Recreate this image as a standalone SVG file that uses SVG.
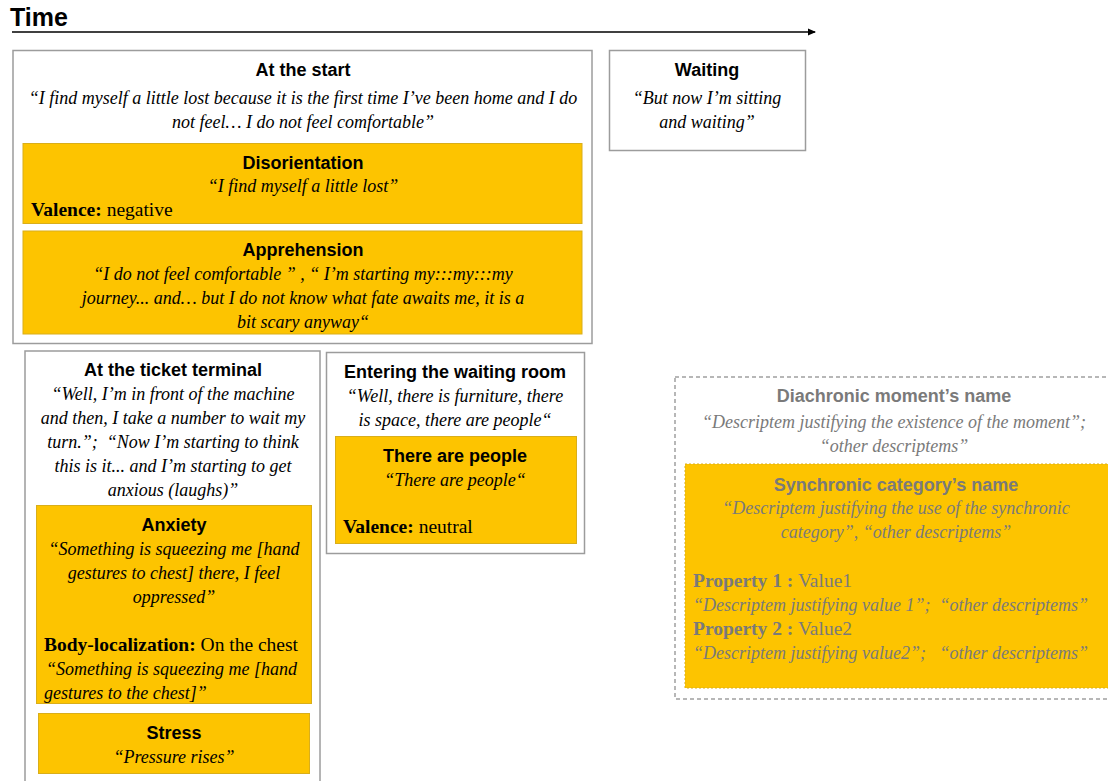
<svg xmlns="http://www.w3.org/2000/svg" width="1108" height="781" viewBox="0 0 1108 781">
<defs>
<style>
.bg{fill:#fff}
.box{fill:#fff;stroke:#9c9c9c;stroke-width:1.5}
.cat{fill:#FDC400;stroke:#D9AE1A;stroke-width:1}
.h{font-family:"Liberation Sans",Arial,sans-serif;font-weight:bold;font-size:18px;fill:#000;text-anchor:middle}
.q{font-family:"Liberation Serif","Times New Roman",serif;font-style:italic;font-size:18px;fill:#000;text-anchor:middle;white-space:pre}
.ql{font-family:"Liberation Serif","Times New Roman",serif;font-style:italic;font-size:18px;fill:#000;white-space:pre}
.p{font-family:"Liberation Serif","Times New Roman",serif;font-size:19.5px;fill:#000;white-space:pre}
.pb{font-weight:bold}
.g{fill:#7a7a7a}
.leg{fill:#fff;stroke:#a0a0a0;stroke-width:1.5;stroke-dasharray:4 3}
.legc{fill:#FDC400;stroke:#D9AE1A;stroke-width:1;stroke-dasharray:2 2}
</style>
<marker id="arr" markerWidth="8" markerHeight="8" refX="7" refY="4" orient="auto" markerUnits="userSpaceOnUse">
<path d="M0,0.5 L8,4 L0,7.5 z" fill="#000"/>
</marker>
</defs>
<rect class="bg" x="0" y="0" width="1108" height="781"/>

<g id="time-axis">
<text x="10" y="26" font-family="'Liberation Sans',Arial,sans-serif" font-weight="bold" font-size="25">Time</text>
</g>

<g id="connectors">
<line x1="12" y1="32" x2="815" y2="32" stroke="#000" stroke-width="1.5" marker-end="url(#arr)"/>
</g>

<g id="at-the-start">
<rect class="box" x="13" y="50.5" width="579" height="293"/>
<text class="h" x="303" y="76">At the start</text>
<text class="q" x="303" y="104">“I find myself a little lost because it is the first time I’ve been home and I do</text>
<text class="q" x="303" y="128">not feel… I do not feel comfortable”</text>
</g>

<g id="disorientation">
<rect class="cat" x="23" y="143.5" width="559" height="80"/>
<text class="h" x="303" y="169">Disorientation</text>
<text class="q" x="303" y="192">“I find myself a little lost”</text>
<text class="p" x="31" y="216"><tspan class="pb">Valence:</tspan> negative</text>
</g>

<g id="apprehension">
<rect class="cat" x="23" y="231" width="559" height="103"/>
<text class="h" x="303" y="256">Apprehension</text>
<text class="q" x="303" y="280">“I do not feel comfortable ” , “ I’m starting my:::my:::my</text>
<text class="q" x="303" y="304">journey... and… but I do not know what fate awaits me, it is a</text>
<text class="q" x="303" y="328">bit scary anyway“</text>
</g>

<g id="waiting">
<rect class="box" x="609.5" y="50.5" width="196" height="100"/>
<text class="h" x="707" y="76">Waiting</text>
<text class="q" x="707" y="104">“But now I’m sitting</text>
<text class="q" x="707" y="128">and waiting”</text>
</g>

<g id="ticket-terminal">
<rect class="box" x="25" y="351" width="295" height="440"/>
<text class="h" x="173" y="376">At the ticket terminal</text>
<text class="q" x="173" y="400">“Well, I’m in front of the machine</text>
<text class="q" x="173" y="424">and then, I take a number to wait my</text>
<text class="q" x="173" y="448">turn.”;  “Now I’m starting to think</text>
<text class="q" x="173" y="472">this is it... and I’m starting to get</text>
<text class="q" x="173" y="496">anxious (laughs)”</text>
</g>

<g id="anxiety">
<rect class="cat" x="36.5" y="505.5" width="275" height="198"/>
<text class="h" x="174" y="531">Anxiety</text>
<text class="q" x="174" y="555">“Something is squeezing me [hand</text>
<text class="q" x="174" y="579">gestures to chest] there, I feel</text>
<text class="q" x="174" y="603">oppressed”</text>
<text class="p" x="44" y="651"><tspan class="pb">Body-localization:</tspan> On the chest</text>
<text class="ql" x="46" y="675">“Something is squeezing me [hand</text>
<text class="ql" x="44" y="699">gestures to the chest]”</text>
</g>

<g id="stress">
<rect class="cat" x="38.5" y="713.5" width="271" height="60"/>
<text class="h" x="174" y="739">Stress</text>
<text class="q" x="174" y="763">“Pressure rises”</text>
</g>

<g id="waiting-room">
<rect class="box" x="326.5" y="352.5" width="258" height="201"/>
<text class="h" x="455" y="378">Entering the waiting room</text>
<text class="q" x="455" y="402">“Well, there is furniture, there</text>
<text class="q" x="455" y="426">is space, there are people“</text>
</g>

<g id="there-are-people">
<rect class="cat" x="335.5" y="436.5" width="241" height="107"/>
<text class="h" x="455" y="462">There are people</text>
<text class="q" x="455" y="486">“There are people“</text>
<text class="p" x="343" y="533"><tspan class="pb">Valence:</tspan> neutral</text>
</g>

<g id="legend-moment">
<rect class="leg" x="675" y="377" width="440" height="322"/>
<text class="h g" x="894" y="402">Diachronic moment’s name</text>
<text class="q g" x="894" y="428">“Descriptem justifying the existence of the moment”;</text>
<text class="q g" x="894" y="452">“other descriptems”</text>
</g>

<g id="legend-category">
<rect class="legc" x="685" y="464" width="430" height="224"/>
<text class="h g" x="896" y="491">Synchronic category’s name</text>
<text class="q g" x="896" y="514">“Descriptem justifying the use of the synchronic</text>
<text class="q g" x="896" y="538">category”, “other descriptems”</text>
<text class="p g" x="693" y="587"><tspan class="pb">Property 1 :</tspan> Value1</text>
<text class="ql g" x="693" y="611">“Descriptem justifying value 1”;  “other descriptems”</text>
<text class="p g" x="693" y="635"><tspan class="pb">Property 2 :</tspan> Value2</text>
<text class="ql g" x="693" y="659">“Descriptem justifying value2”;   “other descriptems”</text>
</g>
</svg>
